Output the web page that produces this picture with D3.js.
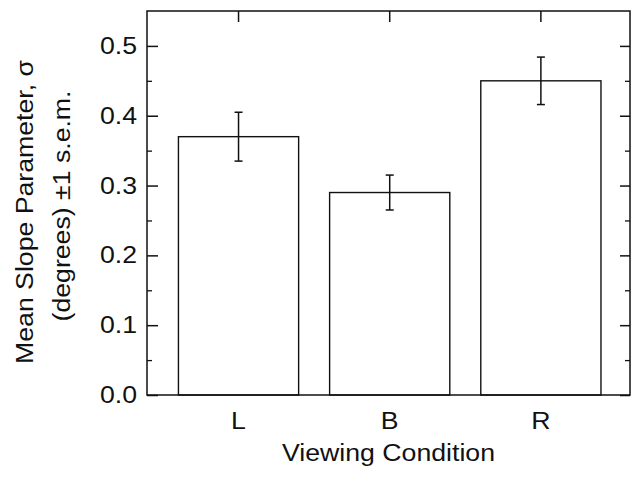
<!DOCTYPE html>
<html>
<head>
<meta charset="utf-8">
<script src="https://cdn.jsdelivr.net/npm/d3@7"></script>
<style>
  html, body { margin: 0; padding: 0; background: #fff; }
  svg { display: block; }
  text { font-family: "Liberation Sans", Arial, Helvetica, sans-serif; fill: #111; }
</style>
</head>
<body>
<svg id="chart" width="631" height="478"></svg>
<script>
// ---- data ----
const categories = ["L", "B", "R"];
const means = [0.37, 0.29, 0.45];
const sems = [0.035, 0.025, 0.034];
const yTicks = [0.0, 0.1, 0.2, 0.3, 0.4, 0.5];
const yMinorTicks = [0.05, 0.15, 0.25, 0.35, 0.45];
const xTitle = "Viewing Condition";
const yTitle1 = "Mean Slope Parameter, σ";
const yTitle2 = "(degrees) ±1 s.e.m.";

(function () {
// ---- layout ----
const pLeft = 147, pRight = 630, pTop = 11, pBottom = 395;
const fontSize = 23, stretch = 1.16;

const svg = d3.select("#chart");

const x = d3.scaleBand().domain(categories).range([pLeft, pRight])
  .paddingInner(0.205).paddingOuter(0.2).align(0.52);
const y = d3.scaleLinear().domain([0, 0.55]).range([pBottom, pTop]);

const data = categories.map((c, i) => ({ c, m: means[i], e: sems[i] }));

// bars
svg.append("g").selectAll("rect").data(data).join("rect")
  .attr("x", d => x(d.c))
  .attr("y", d => y(d.m))
  .attr("width", x.bandwidth())
  .attr("height", d => y(0) - y(d.m))
  .attr("fill", "#fff")
  .attr("stroke", "#111")
  .attr("stroke-width", 1.4);

// error bars
const eb = svg.append("g").attr("stroke", "#111").attr("stroke-width", 1.5);
data.forEach(d => {
  const cx = x(d.c) + x.bandwidth() / 2;
  eb.append("line").attr("x1", cx).attr("x2", cx).attr("y1", y(d.m + d.e)).attr("y2", y(d.m - d.e));
  [d.m + d.e, d.m - d.e].forEach(v => {
    eb.append("line").attr("x1", cx - 4).attr("x2", cx + 4).attr("y1", y(v)).attr("y2", y(v));
  });
});

// axes with inward ticks
const axL = d3.axisLeft(y).tickValues(yTicks).tickSize(-11).tickFormat("");
const gL = svg.append("g").attr("transform", `translate(${pLeft},0)`).call(axL);
gL.select(".domain").remove();
gL.selectAll("line").attr("stroke", "#111").attr("stroke-width", 1.5);

const axLm = d3.axisLeft(y).tickValues(yMinorTicks).tickSize(-5).tickFormat("");
const gLm = svg.append("g").attr("transform", `translate(${pLeft},0)`).call(axLm);
gLm.select(".domain").remove();
gLm.selectAll("line").attr("stroke", "#111").attr("stroke-width", 1.3);

const axR = d3.axisRight(y).tickValues(yTicks).tickSize(-10).tickFormat("");
const gR = svg.append("g").attr("transform", `translate(${pRight},0)`).call(axR);
gR.select(".domain").remove();
gR.selectAll("line").attr("stroke", "#111").attr("stroke-width", 1.5);

const axRm = d3.axisRight(y).tickValues(yMinorTicks).tickSize(-5).tickFormat("");
const gRm = svg.append("g").attr("transform", `translate(${pRight},0)`).call(axRm);
gRm.select(".domain").remove();
gRm.selectAll("line").attr("stroke", "#111").attr("stroke-width", 1.3);

const axT = d3.axisTop(x).tickSize(-11).tickFormat("");
const gT = svg.append("g").attr("transform", `translate(0,${pTop})`).call(axT);
gT.select(".domain").remove();
gT.selectAll("line").attr("stroke", "#111").attr("stroke-width", 1.5);

// frame
svg.append("rect").attr("x", pLeft).attr("y", pTop)
  .attr("width", pRight - pLeft).attr("height", pBottom - pTop)
  .attr("fill", "none").attr("stroke", "#111").attr("stroke-width", 1.5);

// y tick labels
svg.append("g").selectAll("text").data(yTicks).join("text")
  .attr("transform", d => `translate(137,${y(d) + 8}) scale(${stretch},1)`)
  .attr("text-anchor", "end")
  .attr("font-size", fontSize)
  .text(d => d3.format(".1f")(d));

// x tick labels
svg.append("g").selectAll("text").data(categories).join("text")
  .attr("transform", d => `translate(${x(d) + x.bandwidth() / 2},429) scale(${stretch},1)`)
  .attr("text-anchor", "middle")
  .attr("font-size", fontSize)
  .text(d => d);

// x title
svg.append("text")
  .attr("transform", `translate(${(pLeft + pRight) / 2},461) scale(${stretch},1)`)
  .attr("text-anchor", "middle")
  .attr("font-size", fontSize)
  .text(xTitle);

// y title (two lines)
svg.append("text")
  .attr("transform", `translate(33,212) rotate(-90) scale(${stretch},1)`)
  .attr("text-anchor", "middle")
  .attr("font-size", fontSize)
  .text(yTitle1);
svg.append("text")
  .attr("transform", `translate(70,206) rotate(-90) scale(${stretch},1)`)
  .attr("text-anchor", "middle")
  .attr("font-size", fontSize)
  .text(yTitle2);
})();
</script>
</body>
</html>
